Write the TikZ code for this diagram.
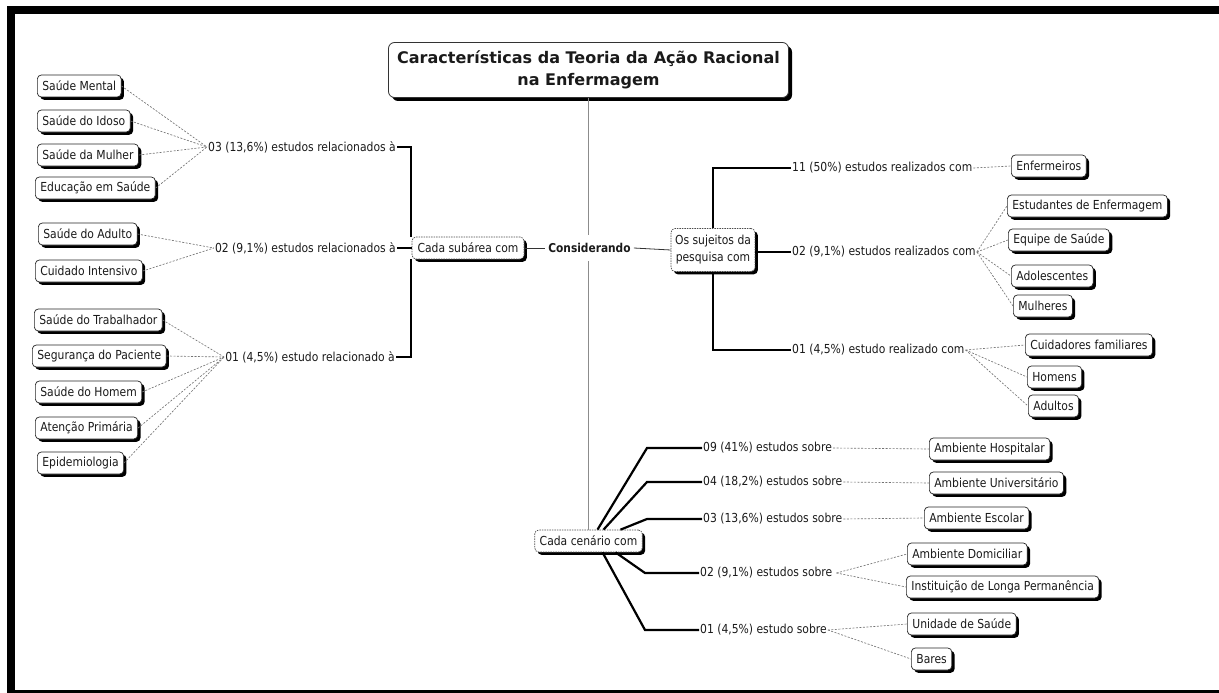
\documentclass[tikz,border=0pt]{standalone}
\usepackage{fontspec}
\setmainfont{DejaVu Sans}[FakeStretch=0.87]
\newfontfamily\titlefont{DejaVu Sans}
\usetikzlibrary{shadows}
\definecolor{txt}{HTML}{1A1A1A}
\tikzset{
  basefont/.style={font=\fontsize{12.4}{14}\selectfont},
  leaf/.style={draw=black!85, line width=0.7pt, rounded corners=4pt, fill=white,
    inner xsep=5pt, inner ysep=0pt, minimum height=22pt, text=txt, basefont,
    drop shadow={shadow xshift=2.8pt, shadow yshift=-2.8pt, opacity=1, fill=black}},
  hub/.style={leaf, draw=black!70, dash pattern=on 1.5pt off 1pt},
  lbl/.style={inner sep=1pt, text=txt, basefont},
  thk/.style={line width=2.2pt, black},
  dotc/.style={draw=black!55, line width=0.65pt, dash pattern=on 2pt off 1.5pt},
  titlebox/.style={draw=black!80, line width=0.8pt, rounded corners=6pt, fill=white,
    align=center, text=txt, font=\titlefont\fontsize{16}{22}\selectfont\bfseries,
    minimum width=400pt, minimum height=55pt,
    drop shadow={shadow xshift=3.5pt, shadow yshift=-3.5pt, opacity=1, fill=black}},
  consnode/.style={fill=white, text=txt, font=\fontsize{12.2}{14}\selectfont\bfseries,
    inner xsep=3pt, minimum height=26pt},
}
\begin{document}
\begin{tikzpicture}[x=1pt,y=-1pt]
\useasboundingbox (0,0) rectangle (1219,693);
% frame
\fill[black] (7,6) rectangle (1219,14);
\fill[black] (7,6) rectangle (15,693);
\fill[black] (7,690) rectangle (1219,693);

% central nodes
\node[titlebox] (title) at (588.5,70) {Características da Teoria da Ação Racional\\na Enfermagem};
\node[hub, minimum width=107pt] (cen) at (588.5,541) {Cada cenário com};
\draw[black!45, line width=0.8pt] (title.south) -- (cen.north);
\node[consnode] (cons) at (589.5,248) {Considerando};
\node[hub, minimum width=112pt] (sub) at (468,248) {Cada subárea com};
\node[hub, align=center, font=\fontsize{12.4}{17}\selectfont, inner xsep=4pt, minimum height=43pt] (suj) at (713,250) {Os sujeitos da\\pesquisa com};
\draw[black!80, line width=0.8pt] (sub.east) -- (cons.west);
\draw[black!80, line width=0.8pt] (cons.east) -- (suj.west);

% left labels
\node[lbl, anchor=east] (t03) at (397,147) {03 (13,6\%) estudos relacionados à};
\node[lbl, anchor=east] (t02) at (397,248) {02 (9,1\%) estudos relacionados à};
\node[lbl, anchor=east] (t01) at (396,357) {01 (4,5\%) estudo relacionado à};
\draw[thk] ([xshift=-1pt]sub.north west) |- (t03.east);
\draw[thk] (sub.west) -- (t02.east);
\draw[thk] ([xshift=-1pt]sub.south west) |- (t01.east);

% left leaves
\node[leaf, anchor=west] (lm1) at (37,86) {Saúde Mental};
\node[leaf, anchor=west] (lm2) at (37,121) {Saúde do Idoso};
\node[leaf, anchor=west] (lm3) at (37,155) {Saúde da Mulher};
\node[leaf, anchor=west] (lm4) at (35,188) {Educação em Saúde};
\node[leaf, anchor=west] (la1) at (38,234) {Saúde do Adulto};
\node[leaf, anchor=west] (la2) at (35,271) {Cuidado Intensivo};
\node[leaf, anchor=west] (lt1) at (34,320) {Saúde do Trabalhador};
\node[leaf, anchor=west] (lt2) at (32,356) {Segurança do Paciente};
\node[leaf, anchor=west] (lt3) at (35,392) {Saúde do Homem};
\node[leaf, anchor=west] (lt4) at (35,428) {Atenção Primária};
\node[leaf, anchor=west] (lt5) at (37,463) {Epidemiologia};
\foreach \n in {lm1,lm2,lm3,lm4} \draw[dotc] (\n.east) -- (t03.west);
\foreach \n in {la1,la2} \draw[dotc] (\n.east) -- (t02.west);
\foreach \n in {lt1,lt2,lt3,lt4,lt5} \draw[dotc] (\n.east) -- (t01.west);

% right labels
\node[lbl, anchor=west] (r11) at (791,168) {11 (50\%) estudos realizados com};
\node[lbl, anchor=west] (r02) at (791,252) {02 (9,1\%) estudos realizados com};
\node[lbl, anchor=west] (r01) at (791,350) {01 (4,5\%) estudo realizado com};
\draw[thk] (suj.north) |- (r11.west);
\draw[thk] (suj.east |- r02.west) -- (r02.west);
\draw[thk] (suj.south) |- (r01.west);

% right leaves
\node[leaf, anchor=west] (s1) at (1011,166) {Enfermeiros};
\node[leaf, anchor=west] (s2) at (1007,206) {Estudantes de Enfermagem};
\node[leaf, anchor=west] (s3) at (1008,240) {Equipe de Saúde};
\node[leaf, anchor=west] (s4) at (1011,276) {Adolescentes};
\node[leaf, anchor=west] (s5) at (1013,306) {Mulheres};
\node[leaf, anchor=west] (s6) at (1025,345) {Cuidadores familiares};
\node[leaf, anchor=west] (s7) at (1027,377) {Homens};
\node[leaf, anchor=west] (s8) at (1028,406) {Adultos};
\draw[dotc] (r11.east) -- (s1.west);
\foreach \n in {s2,s3,s4,s5} \draw[dotc] (r02.east) -- (\n.west);
\foreach \n in {s6,s7,s8} \draw[dotc] (r01.east) -- (\n.west);

% bottom labels
\node[lbl, anchor=west] (b09) at (702,448) {09 (41\%) estudos sobre};
\node[lbl, anchor=west] (b04) at (702,482) {04 (18,2\%) estudos sobre};
\node[lbl, anchor=west] (b03) at (702,519) {03 (13,6\%) estudos sobre};
\node[lbl, anchor=west] (b02) at (699,573) {02 (9,1\%) estudos sobre};
\node[lbl, anchor=west] (b01) at (699,630) {01 (4,5\%) estudo sobre};
\draw[thk] ([xshift=9pt]cen.north) -- ([xshift=-55pt]b09.west) -- (b09.west);
\draw[thk] ([xshift=15pt]cen.north) -- ([xshift=-55pt]b04.west) -- (b04.west);
\draw[thk] ([xshift=32pt]cen.north) -- ([xshift=-55pt]b03.west) -- (b03.west);
\draw[thk] ([xshift=27pt]cen.south) -- ([xshift=-54pt]b02.west) -- (b02.west);
\draw[thk] ([xshift=14pt]cen.south) -- ([xshift=-54pt]b01.west) -- (b01.west);

% bottom leaves
\node[leaf, anchor=west] (c1) at (929,449) {Ambiente Hospitalar};
\node[leaf, anchor=west] (c2) at (929,483) {Ambiente Universitário};
\node[leaf, anchor=west] (c3) at (924,518) {Ambiente Escolar};
\node[leaf, anchor=west] (c4) at (907,554) {Ambiente Domiciliar};
\node[leaf, anchor=west] (c5) at (906,587) {Instituição de Longa Permanência};
\node[leaf, anchor=west] (c6) at (907,624) {Unidade de Saúde};
\node[leaf, anchor=west] (c7) at (911,659) {Bares};
\draw[dotc] (b09.east) -- (c1.west);
\draw[dotc] (b04.east) -- (c2.west);
\draw[dotc] (b03.east) -- (c3.west);
\draw[dotc] ([xshift=3pt]b02.east) -- (c4.west);
\draw[dotc] ([xshift=3pt]b02.east) -- (c5.west);
\draw[dotc] (b01.east) -- (c6.west);
\draw[dotc] (b01.east) -- (c7.west);
\end{tikzpicture}
\end{document}
